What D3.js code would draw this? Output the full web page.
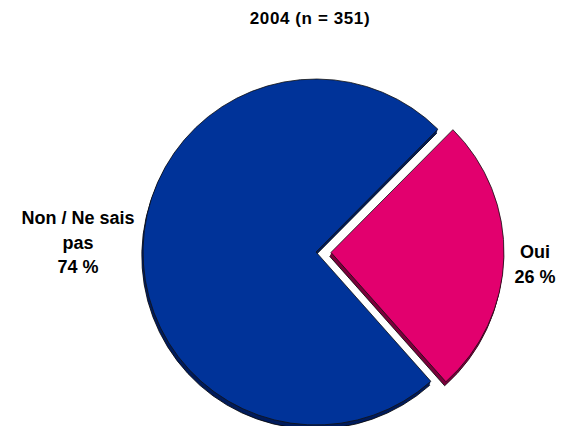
<!DOCTYPE html>
<html>
<head>
<meta charset="utf-8">
<script src="https://cdn.jsdelivr.net/npm/d3@7/dist/d3.min.js"></script>
<style>
  html, body { margin: 0; padding: 0; background: #fff; }
  svg { display: block; }
  text { font-family: "Liberation Sans", Arial, sans-serif; font-weight: bold; fill: #000; }
</style>
</head>
<body>
<script>
const title = "2004 (n = 351)";
const categories = ["Oui", "Non / Ne sais pas"];
const values = [26, 74];
const labelLines = [["Oui", "26 %"], ["Non / Ne sais", "pas", "74 %"]];
const topColors = ["#E2006E", "#003399"];
const sideColors = ["#7A003C", "#001C5C"];

const W = 571, H = 426;
const svg = d3.select("body").append("svg").attr("width", W).attr("height", H);

const cx = 316, cy = 252, R = 173, explode = 15, depth = 4;

const pie = d3.pie().sort(null).value(d => d)
  .startAngle(44.8 * Math.PI / 180)
  .endAngle(44.8 * Math.PI / 180 + 2 * Math.PI);
const arcs = pie(values);
const arc = d3.arc().innerRadius(0).outerRadius(R);

const g = svg.append("g");
arcs.forEach((a, i) => {
  const mid = (a.startAngle + a.endAngle) / 2;
  const off = i === 0 ? explode : 0;
  const ox = cx + off * Math.sin(mid), oy = cy - off * Math.cos(mid);
  const sg = g.append("g").attr("transform", `translate(${ox},${oy})`);
  for (let k = depth; k >= 1; k--) {
    sg.append("path").attr("d", arc(a))
      .attr("transform", `translate(${-k * 0.3},${k})`)
      .attr("fill", sideColors[i])
      .attr("stroke", k === depth ? "#000" : "none")
      .attr("stroke-width", 0.8);
  }
  sg.append("path").attr("d", arc(a))
    .attr("fill", topColors[i])
    .attr("stroke", "#111")
    .attr("stroke-width", 0.8)
    .attr("stroke-linejoin", "round");
});

svg.append("text").attr("x", 310).attr("y", 24).attr("text-anchor", "middle")
  .style("font-size", "17px").style("letter-spacing", "0.6px").text(title);

const labelPos = [[535, 258], [78, 224]];
labelLines.forEach((lines, i) => {
  const t = svg.append("text").attr("text-anchor", "middle").style("font-size", "18px");
  lines.forEach((ln, j) => {
    t.append("tspan").attr("x", labelPos[i][0]).attr("y", labelPos[i][1] + j * 24.5).text(ln);
  });
});
</script>
</body>
</html>
